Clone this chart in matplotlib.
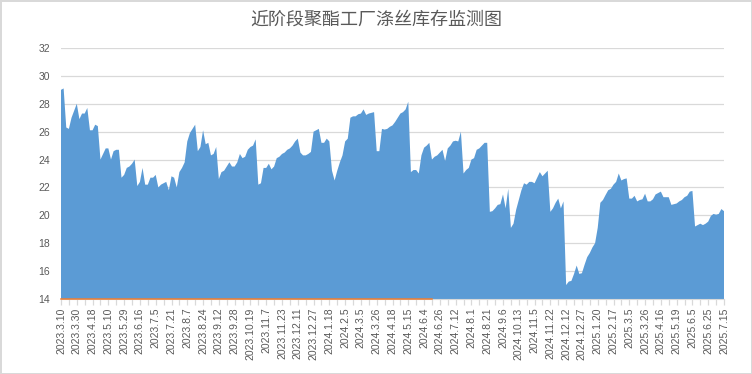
import matplotlib
matplotlib.use("Agg")
import matplotlib.pyplot as plt
import numpy as np

title = "近阶段聚酯工厂涤丝库存监测图"

tick_labels = ["2023.3.10", "2023.3.30", "2023.4.18", "2023.5.10", "2023.5.29", "2023.6.16",
               "2023.7.5", "2023.7.21", "2023.8.7", "2023.8.24", "2023.9.12", "2023.9.28",
               "2023.10.19", "2023.11.7", "2023.11.23", "2023.12.11", "2023.12.27", "2024.1.18",
               "2024.2.5", "2024.3.5", "2024.3.26", "2024.4.18", "2024.5.15", "2024.6.4",
               "2024.6.26", "2024.7.12", "2024.8.1", "2024.8.21", "2024.9.6", "2024.10.13",
               "2024.11.5", "2024.11.22", "2024.12.12", "2024.12.27", "2025.1.20", "2025.2.17",
               "2025.3.5", "2025.3.26", "2025.4.16", "2025.5.19", "2025.6.5", "2025.6.25",
               "2025.7.15"]

inventory = [
    29.0, 29.1, 26.3, 26.2, 27.0, 27.5, 28.0, 26.9, 27.3, 27.3,
    27.7, 26.1, 26.1, 26.5, 26.4, 24.0, 24.4, 24.8, 24.8, 24.0,
    24.6, 24.7, 24.7, 22.7, 22.9, 23.4, 23.5, 23.7, 24.0, 22.1,
    22.4, 23.4, 22.2, 22.2, 22.7, 22.7, 22.9, 22.0, 22.2, 22.3,
    22.4, 21.8, 22.8, 22.7, 22.0, 23.1, 23.4, 23.8, 25.3, 25.9,
    26.2, 26.5, 24.6, 24.9, 26.1, 25.1, 25.2, 24.3, 24.4, 24.9,
    22.6, 23.1, 23.2, 23.5, 23.8, 23.5, 23.5, 23.8, 24.4, 24.1,
    24.2, 24.7, 24.9, 25.0, 25.45, 22.2, 22.3, 23.4, 23.4, 23.7,
    23.3, 23.5, 24.1, 24.2, 24.4, 24.5, 24.7, 24.8, 25.0, 25.3,
    25.5, 24.5, 24.3, 24.3, 24.4, 24.55, 26.0, 26.1, 26.2, 25.2,
    25.2, 25.5, 25.3, 23.2, 22.5, 23.2, 23.8, 24.3, 25.3, 25.5,
    27.0, 27.1, 27.1, 27.25, 27.3, 27.6, 27.2, 27.3, 27.35, 27.4,
    24.6, 24.6, 26.2, 26.15, 26.2, 26.35, 26.45, 26.7, 27.0, 27.3,
    27.4, 27.6, 28.15, 23.1, 23.25, 23.25, 23.0, 24.3, 24.85, 25.0,
    25.2, 24.0, 24.2, 24.3, 24.5, 24.7, 23.9, 24.8, 25.0, 25.3,
    25.35, 25.3, 26.0, 23.0, 23.25, 23.4, 24.0, 24.1, 24.7, 24.8,
    25.0, 25.2, 25.2, 20.25, 20.3, 20.5, 20.75, 20.8, 21.5, 20.5,
    21.9, 19.1, 19.4, 20.4, 21.1, 21.8, 22.3, 22.2, 22.4, 22.4,
    22.3, 22.7, 23.1, 22.8, 23.0, 23.2, 20.25, 20.5, 20.9, 21.2,
    20.5, 21.0, 15.0, 15.25, 15.3, 15.8, 16.4, 15.8, 15.85, 16.45,
    17.0, 17.3, 17.7, 18.0, 19.1, 20.9, 21.1, 21.46, 21.8, 21.9,
    22.2, 22.4, 23.0, 22.5, 22.6, 22.65, 21.2, 21.2, 21.4, 21.0,
    21.1, 21.15, 21.55, 21.0, 21.0, 21.15, 21.5, 21.6, 21.7, 21.3,
    21.3, 21.3, 20.75, 20.8, 20.85, 21.0, 21.1, 21.3, 21.4, 21.7,
    21.75, 19.2, 19.3, 19.4, 19.3, 19.4, 19.55, 19.95, 20.1, 20.05,
    20.1, 20.45, 20.3,
]

# second (orange) series sits at the bottom of the axis until mid-2024
orange_end = 141
orange_value = 14.0

y_ticks = [14, 16, 18, 20, 22, 24, 26, 28, 30, 32]

plt.rcParams['font.family'] = ['Liberation Sans', 'Noto Sans CJK SC', 'DejaVu Sans']

fig = plt.figure(figsize=(7.52, 3.74), dpi=100)
fig.patch.set_facecolor("white")
fig.patch.set_edgecolor("#d9d9d9")
fig.patch.set_linewidth(1.0)
ax = fig.add_axes([61/752, 1-299/374, (724-61)/752, (299-48)/374])

n = len(inventory)
x = np.arange(n)
ax.fill_between(x, 0, inventory, color="#5B9BD5", linewidth=0, zorder=2)
ax.plot(x[:orange_end + 1], [orange_value] * (orange_end + 1), color="#ED7D31",
        lw=1.1, zorder=4, clip_on=False)

ax.set_xlim(0, n - 1)
ax.set_ylim(14, 32)
ax.set_yticks(y_ticks)
ax.set_yticklabels([str(v) for v in y_ticks], fontsize=7.5, color="#595959")
ax.grid(axis="y", color="#d9d9d9", lw=0.9, zorder=0)
ax.set_axisbelow(True)

step = (n - 1) // (len(tick_labels) - 1)
ax.set_xticks(np.arange(0, n, step))
ax.set_xticklabels(tick_labels, rotation=90, fontsize=7.5, color="#595959")
ax.set_xticks(np.arange(0, n, step / 2), minor=True)
ax.tick_params(axis="x", which="both", length=4, color="#d9d9d9", width=0.9, pad=2)
ax.tick_params(axis="y", length=0, pad=8)

for s in ["top", "right", "left"]:
    ax.spines[s].set_visible(False)
ax.spines["bottom"].set_color("#d9d9d9")
ax.spines["bottom"].set_zorder(3)

fig.text((247 + 505) / 2 / 752, 1 - 20 / 374, title, ha="center", va="center",
         fontsize=13, color="#595959", family=["Noto Sans CJK SC", "DejaVu Sans"])

fig.savefig("out.png", dpi=100, facecolor="white", edgecolor="#d9d9d9")
